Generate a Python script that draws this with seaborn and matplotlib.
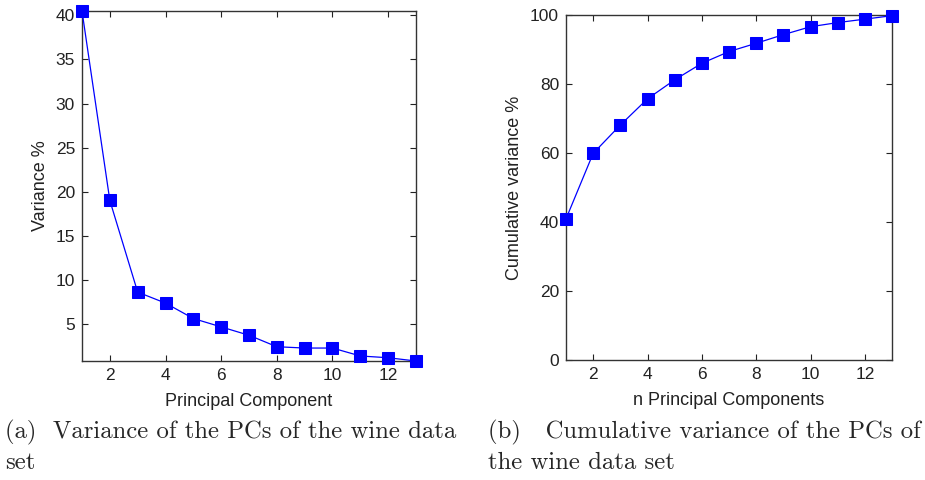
import matplotlib
matplotlib.use("Agg")
import matplotlib.pyplot as plt
import seaborn as sns
import numpy as np

components = [1, 2, 3, 4, 5, 6, 7, 8, 9, 10, 11, 12, 13]
variance = [40.5, 19.0, 8.6, 7.35, 5.6, 4.65, 3.7, 2.4, 2.25, 2.25, 1.35, 1.15, 0.78]
cumulative = [40.9, 59.9, 68.1, 75.7, 81.2, 86.0, 89.4, 91.8, 94.3, 96.6, 97.8, 98.8, 99.8]

xticks = [2, 4, 6, 8, 10, 12]
yticks_a = [5, 10, 15, 20, 25, 30, 35, 40]
yticks_b = [0, 20, 40, 60, 80, 100]

sns.set_style("ticks")
plt.rcParams['font.family'] = ['Liberation Sans', 'DejaVu Sans']

fig = plt.figure(figsize=(9.25, 4.8), dpi=100)
ax1 = fig.add_axes([82/925, 1-361/480, 334/925, 350/480])
ax2 = fig.add_axes([566/925, 1-360/480, 326/925, 345/480])

def style(ax, yticks, ylim, xlabel, ylabel):
    ax.set_xlim(1, 13)
    ax.set_ylim(*ylim)
    ax.set_xticks(xticks)
    ax.set_yticks(yticks)
    ax.tick_params(direction='in', top=True, right=True, length=4, width=0.8,
                   labelsize=12.5, colors='#222222', labelcolor='#222222', pad=5)
    for s in ax.spines.values():
        s.set_visible(True)
        s.set_color('#333333')
        s.set_linewidth(1.0)
    ax.set_xlabel(xlabel, fontsize=13, labelpad=7, color='#222222')
    ax.set_ylabel(ylabel, fontsize=13, labelpad=5, color='#222222')

for ax, y in ((ax1, variance), (ax2, cumulative)):
    sns.lineplot(x=components, y=y, ax=ax, color='#0000ff', linewidth=0.9,
                 marker='s', markersize=9, markeredgecolor='#0000ff',
                 markerfacecolor='#0000ff', clip_on=False, zorder=3)

style(ax1, yticks_a, (0.78, 40.5), "Principal Component", "Variance %")
style(ax2, yticks_b, (0, 100), "n Principal Components", "Cumulative variance %")

cap = dict(family='cmr10', fontsize=17.8, va='baseline', ha='left')
fig.text(5/925, 1-438/480, "(a)  Variance of the PCs of the wine data", **cap)
fig.text(5/925, 1-469/480, "set", **cap)
fig.text(488/925, 1-438/480, "(b)   Cumulative variance of the PCs of", **cap)
fig.text(488/925, 1-469/480, "the wine data set", **cap)

fig.savefig("out.png", dpi=100)
